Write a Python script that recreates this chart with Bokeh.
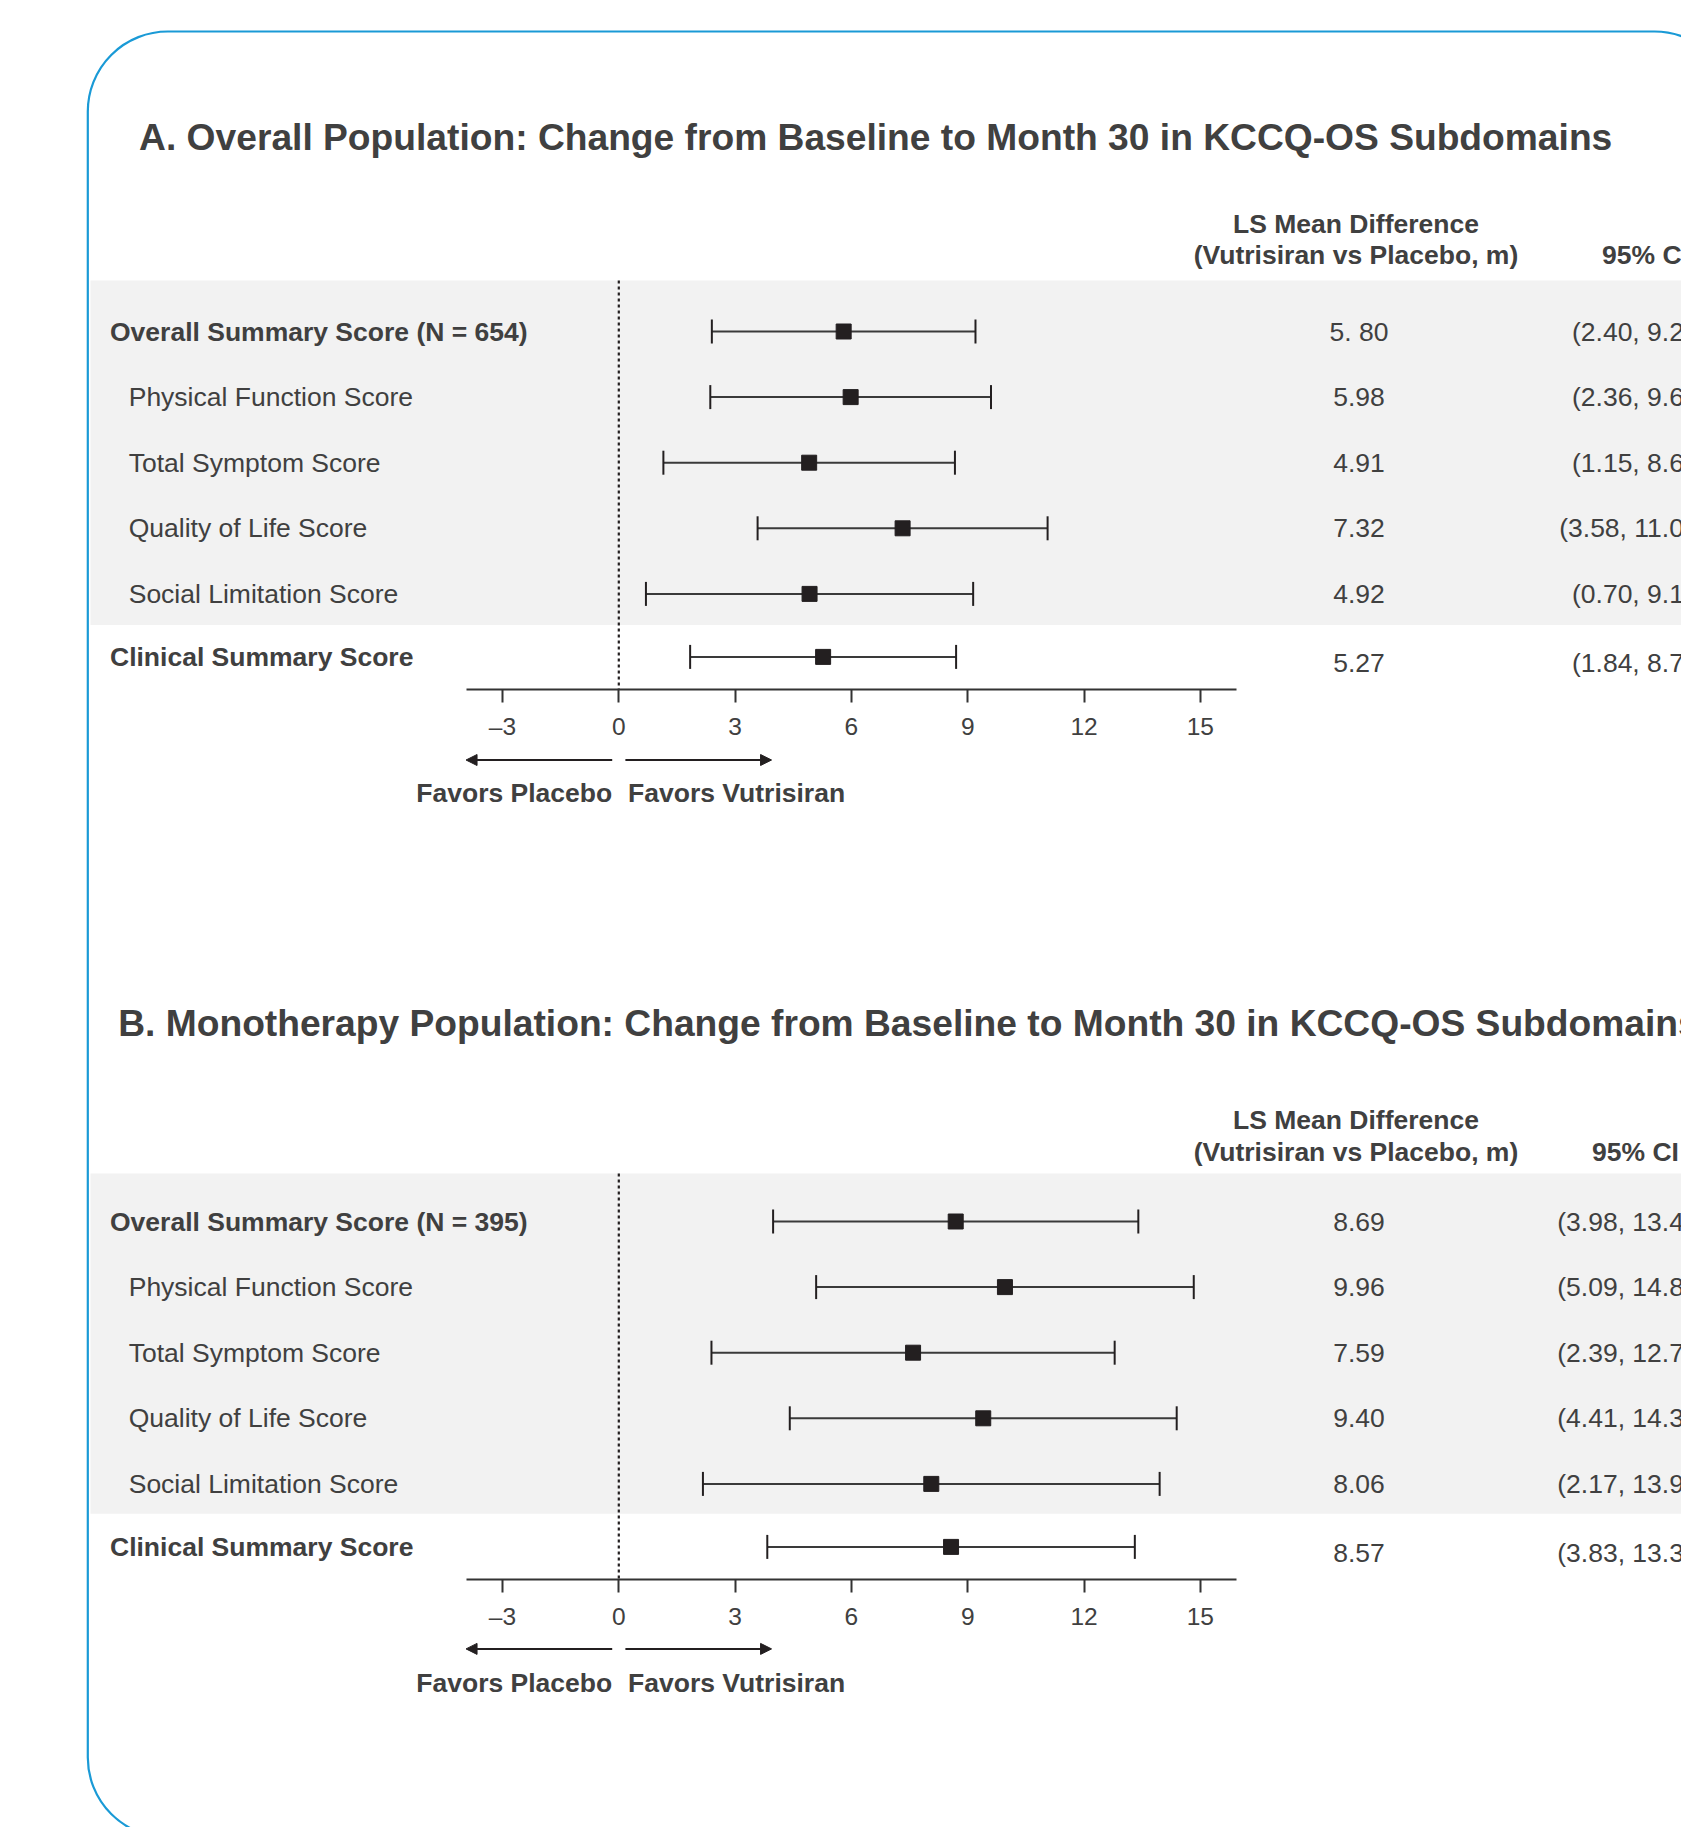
from bokeh.plotting import figure
from bokeh.models import (Range1d, LinearAxis, FixedTicker, BoxAnnotation, Arrow,
                          NormalHead, ColumnDataSource)
from bokeh.core.properties import value
from bokeh.embed import file_html
from bokeh.resources import INLINE

# ---------------- data ----------------
titles = [
    "A. Overall Population: Change from Baseline to Month 30 in KCCQ-OS Subdomains",
    "B. Monotherapy Population: Change from Baseline to Month 30 in KCCQ-OS Subdomains",
]
labels_a = ["Overall Summary Score (N = 654)", "Physical Function Score", "Total Symptom Score",
            "Quality of Life Score", "Social Limitation Score", "Clinical Summary Score"]
labels_b = ["Overall Summary Score (N = 395)", "Physical Function Score", "Total Symptom Score",
            "Quality of Life Score", "Social Limitation Score", "Clinical Summary Score"]
bold_rows = [True, False, False, False, False, True]

ls_mean_a = [5.80, 5.98, 4.91, 7.32, 4.92, 5.27]
ci_low_a = [2.40, 2.36, 1.15, 3.58, 0.70, 1.84]
ci_high_a = [9.20, 9.60, 8.67, 11.06, 9.14, 8.70]
ls_text_a = ["5. 80", "5.98", "4.91", "7.32", "4.92", "5.27"]

ls_mean_b = [8.69, 9.96, 7.59, 9.40, 8.06, 8.57]
ci_low_b = [3.98, 5.09, 2.39, 4.41, 2.17, 3.83]
ci_high_b = [13.40, 14.83, 12.79, 14.39, 13.95, 13.31]
ls_text_b = ["8.69", "9.96", "7.59", "9.40", "8.06", "8.57"]

header_ls = ["LS Mean Difference", "(Vutrisiran vs Placebo, m)"]
header_ci = "95% CI"
tick_values = [-3, 0, 3, 6, 9, 12, 15]
tick_labels = ["\u20133", "0", "3", "6", "9", "12", "15"]
favors = ["Favors Placebo", "Favors Vutrisiran"]

# ---------------- layout ----------------
W, H = 1681, 1827
ZERO_PX = 618.3
PX_PER_UNIT = 38.77
FONT = value("Liberation Sans")
TXT = "#404040"
DARK = "#231f20"

p = figure(width=W, height=H, x_range=Range1d(0, W), y_range=Range1d(H, 0),
           output_backend="svg", toolbar_location=None, x_axis_type=None, y_axis_type=None,
           min_border=0, outline_line_color=None, background_fill_color="white")
p.extra_x_ranges = {"eff": Range1d((0 - ZERO_PX) / PX_PER_UNIT, (W - ZERO_PX) / PX_PER_UNIT)}


def add_text(x, y, text, size, bold=False, align="left", rng="default", x_offset=0, color=TXT):
    src = ColumnDataSource(dict(x=x, y=y, text=text))
    p.text(x="x", y="y", text="text", source=src, text_font=FONT, text_font_size=size,
           text_font_style="bold" if bold else "normal", text_align=align,
           text_baseline="middle", text_color=color, x_range_name=rng, x_offset=x_offset)


panels = [
    dict(title=titles[0], labels=labels_a, mean=ls_mean_a, lo=ci_low_a, hi=ci_high_a, ls=ls_text_a,
         title_x=138.6, title_y=136.3, h1=223.0, h2=254.0, ci_head_x=1645,
         band_top=280.0, band_bot=624.4, row0=331.0, axis_y=688.7, arrow_y=759.5, fav_y=792.0),
    dict(title=titles[1], labels=labels_b, mean=ls_mean_b, lo=ci_low_b, hi=ci_high_b, ls=ls_text_b,
         title_x=117.7, title_y=1022.8, h1=1119.5, h2=1151.0, ci_head_x=1635,
         band_top=1173.1, band_bot=1513.3, row0=1221.0, axis_y=1578.5, arrow_y=1648.4, fav_y=1682.2),
]

ROW_GAP = 65.6
LAST_GAP = 63.0
LABEL_X_BOLD = 109.5
LABEL_X_REG = 128.2
LS_X = 1358.5
CI_RIGHT = 1707.0
CAP = 12

for pn in panels:
    n = len(pn["labels"])
    ys = [pn["row0"] + i * ROW_GAP for i in range(n - 1)]
    ys.append(ys[-1] + LAST_GAP)

    # shaded band for the KCCQ-OS summary and its subdomains
    p.quad(left=[90], right=[W + 20], top=[pn["band_top"]], bottom=[pn["band_bot"]],
           fill_color="#f2f2f2", line_color=None)

    # title and column headers
    add_text([pn["title_x"]], [pn["title_y"]], [pn["title"]], "37.2px", bold=True)
    add_text([LS_X - 3, LS_X - 3], [pn["h1"], pn["h2"]], header_ls, "26.5px", bold=True, align="center")
    add_text([pn["ci_head_x"]], [pn["h2"]], [header_ci], "26.5px", bold=True, align="center")

    # zero reference line
    p.segment(x0=[0], x1=[0], y0=[pn["band_top"]], y1=[pn["axis_y"]], x_range_name="eff",
              line_color=DARK, line_width=2.2, line_dash="3 3")

    # whiskers with caps
    p.segment(x0=pn["lo"], x1=pn["hi"], y0=ys, y1=ys, x_range_name="eff",
              line_color="#3a3a3a", line_width=2)
    p.segment(x0=pn["lo"], x1=pn["lo"], y0=[y - CAP for y in ys], y1=[y + CAP for y in ys],
              x_range_name="eff", line_color=DARK, line_width=2)
    p.segment(x0=pn["hi"], x1=pn["hi"], y0=[y - CAP for y in ys], y1=[y + CAP for y in ys],
              x_range_name="eff", line_color=DARK, line_width=2)
    p.scatter(x=pn["mean"], y=ys, marker="square", size=15, fill_color=DARK, line_color=DARK,
              x_range_name="eff")

    # row labels
    bx, by, bt, rx, ry, rt = [], [], [], [], [], []
    for lab, y, b in zip(pn["labels"], ys, bold_rows):
        if b:
            bx.append(LABEL_X_BOLD); by.append(y); bt.append(lab)
        else:
            rx.append(LABEL_X_REG); ry.append(y); rt.append(lab)
    add_text(bx, by, bt, "26.5px", bold=True)
    add_text(rx, ry, rt, "26.5px")

    # value columns (clinical row values sit slightly lower)
    vy = ys[:-1] + [ys[-1] + 6]
    add_text([LS_X] * n, vy, pn["ls"], "26.5px", align="center")
    ci_txt = ["(%.2f, %.2f)" % (a, b) for a, b in zip(pn["lo"], pn["hi"])]
    add_text([CI_RIGHT - 60] * n, vy, ci_txt, "26.5px", align="right", x_offset=60)

    # x axis
    ax = LinearAxis(x_range_name="eff", fixed_location=pn["axis_y"], bounds=(-3.94, 15.94),
                    ticker=FixedTicker(ticks=tick_values),
                    major_label_overrides={float(t): l for t, l in zip(tick_values, tick_labels)})
    ax.axis_line_width = 2.2
    ax.axis_line_color = "#333333"
    ax.major_tick_line_width = 2
    ax.major_tick_line_color = "#333333"
    ax.major_tick_out = 13
    ax.major_tick_in = 0
    ax.minor_tick_out = 0
    ax.minor_tick_in = 0
    ax.major_label_text_font = "Liberation Sans"
    ax.major_label_text_font_size = "24.5px"
    ax.major_label_text_color = TXT
    ax.major_label_standoff = 11
    p.add_layout(ax, "below")

    # direction arrows and captions
    for xs, xe in [(-0.17, -3.94), (0.17, 3.94)]:
        p.add_layout(Arrow(x_start=xs, x_end=xe, y_start=pn["arrow_y"], y_end=pn["arrow_y"],
                           x_range_name="eff", line_color=DARK, line_width=2,
                           end=NormalHead(size=11, fill_color=DARK, line_color=DARK, line_width=1)))
    add_text([-0.17], [pn["fav_y"]], [favors[0]], "26.5px", bold=True, align="right", rng="eff")
    add_text([0.24], [pn["fav_y"]], [favors[1]], "26.5px", bold=True, align="left", rng="eff")

# rounded frame around the figure
p.add_layout(BoxAnnotation(left=87.3, right=1734, top=31, bottom=1837, border_radius=80,
                           fill_alpha=0, line_color="#1a9ad6", line_width=2.2, line_alpha=1))

open("out.html", "w").write(file_html(p, INLINE))
